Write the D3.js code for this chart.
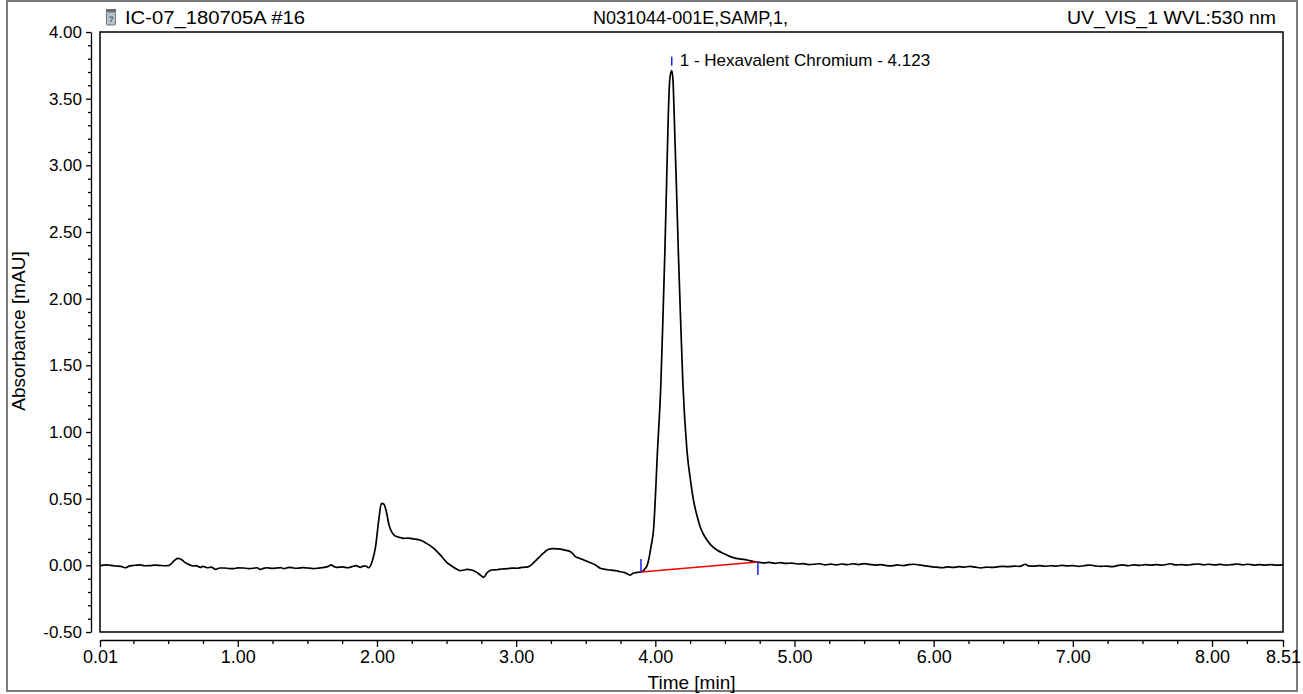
<!DOCTYPE html>
<html>
<head>
<meta charset="utf-8">
<script src="https://cdn.jsdelivr.net/npm/d3@7"></script>
<style>
  html, body { margin: 0; padding: 0; background: #fff; }
  svg { display: block; font-family: "Liberation Sans", Arial, sans-serif; }
</style>
</head>
<body>
<svg id="chart" width="1303" height="694"></svg>
<script>
// header texts
const headerLeft = "IC-07_180705A #16"
const headerMid = "N031044-001E,SAMP,1,"
const headerRight = "UV_VIS_1 WVL:530 nm"

// axes
const xDomain = [0.01, 8.51]
const yDomain = [-0.5, 4.0]
const xMajorTicks = [0.01, 1, 2, 3, 4, 5, 6, 7, 8, 8.51]
const xMinorTicks = [0.25, 0.5, 0.75, 1.25, 1.5, 1.75, 2.25, 2.5, 2.75, 3.25, 3.5, 3.75,
  4.25, 4.5, 4.75, 5.25, 5.5, 5.75, 6.25, 6.5, 6.75, 7.25, 7.5, 7.75, 8.25]
const yMajorTicks = [-0.5, 0, 0.5, 1, 1.5, 2, 2.5, 3, 3.5, 4]
const yMinorTicks = [-0.4, -0.3, -0.2, -0.1, 0.1, 0.2, 0.3, 0.4, 0.6, 0.7, 0.8, 0.9,
  1.1, 1.2, 1.3, 1.4, 1.6, 1.7, 1.8, 1.9, 2.1, 2.2, 2.3, 2.4, 2.6, 2.7, 2.8, 2.9,
  3.1, 3.2, 3.3, 3.4, 3.6, 3.7, 3.8, 3.9]

// chromatogram trace [time min, absorbance mAU]
const trace = [
  [0.01, -0.002], [0.06, 0.003], [0.09, -0.001], [0.12, -0.005], [0.16, -0.008], [0.19, -0.018],
  [0.22, -0.006], [0.24, -0.002], [0.27, 0.001], [0.30, 0.003], [0.33, -0.003], [0.37, -0.002],
  [0.40, 0.002], [0.44, 0.000], [0.47, -0.003], [0.50, -0.002], [0.52, 0.010], [0.54, 0.032],
  [0.57, 0.052], [0.60, 0.040], [0.62, 0.022], [0.64, 0.010], [0.66, 0.002], [0.68, -0.005],
  [0.70, -0.002], [0.73, -0.015], [0.75, -0.008], [0.78, -0.018], [0.81, -0.014], [0.84, -0.030],
  [0.87, -0.020], [0.90, -0.020], [0.94, -0.024], [0.97, -0.025], [1.00, -0.019], [1.04, -0.020],
  [1.08, -0.024], [1.11, -0.022], [1.14, -0.018], [1.16, -0.030], [1.19, -0.021], [1.21, -0.018],
  [1.25, -0.023], [1.28, -0.020], [1.31, -0.017], [1.33, -0.025], [1.37, -0.015], [1.40, -0.020],
  [1.43, -0.022], [1.47, -0.017], [1.50, -0.020], [1.54, -0.024], [1.57, -0.022], [1.60, -0.018],
  [1.62, -0.015], [1.65, -0.008], [1.67, 0.003], [1.69, -0.008], [1.71, -0.015], [1.75, -0.012],
  [1.79, -0.018], [1.82, -0.010], [1.85, -0.002], [1.88, -0.015], [1.90, -0.006], [1.92, -0.005],
  [1.94, -0.018], [1.965, 0.027], [1.99, 0.140], [2.013, 0.340], [2.032, 0.465], [2.049, 0.460],
  [2.068, 0.400], [2.087, 0.300], [2.109, 0.245], [2.125, 0.225], [2.144, 0.215], [2.17, 0.208],
  [2.192, 0.202], [2.22, 0.204], [2.252, 0.200], [2.28, 0.196], [2.307, 0.190], [2.33, 0.180],
  [2.348, 0.170], [2.38, 0.150], [2.408, 0.127], [2.43, 0.105], [2.456, 0.077], [2.48, 0.048],
  [2.503, 0.020], [2.53, 0.000], [2.551, -0.015], [2.575, -0.030], [2.60, -0.040], [2.625, -0.035],
  [2.647, -0.030], [2.67, -0.034], [2.695, -0.040], [2.72, -0.055], [2.743, -0.073], [2.767, -0.090],
  [2.791, -0.055], [2.81, -0.040], [2.827, -0.035], [2.86, -0.033], [2.89, -0.028], [2.91, -0.027],
  [2.94, -0.025], [2.97, -0.021], [3.006, -0.022], [3.04, -0.016], [3.07, -0.014], [3.09, -0.010],
  [3.126, 0.020], [3.15, 0.045], [3.174, 0.070], [3.20, 0.095], [3.222, 0.115], [3.245, 0.124],
  [3.27, 0.125], [3.30, 0.124], [3.33, 0.120], [3.36, 0.112], [3.39, 0.102], [3.41, 0.085],
  [3.425, 0.065], [3.45, 0.055], [3.473, 0.045], [3.50, 0.034], [3.533, 0.020], [3.57, 0.002],
  [3.605, -0.022], [3.64, -0.030], [3.677, -0.035], [3.71, -0.040], [3.749, -0.048], [3.78, -0.055],
  [3.82, -0.073], [3.84, -0.060], [3.857, -0.055], [3.88, -0.052], [3.897, -0.050], [3.915, -0.040],
  [3.928, -0.023], [3.94, -0.005], [3.952, 0.040], [3.969, 0.140], [3.987, 0.265], [4.016, 0.865],
  [4.040, 1.365], [4.055, 1.865], [4.069, 2.365], [4.081, 2.866], [4.093, 3.365], [4.102, 3.616],
  [4.110, 3.690], [4.118, 3.710], [4.127, 3.640], [4.136, 3.365], [4.151, 2.866], [4.165, 2.365],
  [4.181, 1.865], [4.198, 1.365], [4.227, 0.865], [4.256, 0.615], [4.274, 0.490], [4.30, 0.370],
  [4.322, 0.290], [4.345, 0.235], [4.371, 0.190], [4.40, 0.152], [4.443, 0.115], [4.49, 0.088],
  [4.539, 0.065], [4.58, 0.052], [4.62, 0.046], [4.658, 0.040], [4.70, 0.030], [4.737, 0.025],
  [4.78, 0.018], [4.82, 0.022], [4.86, 0.015], [4.90, 0.020], [4.94, 0.014], [4.98, 0.017],
  [5.02, 0.010], [5.06, 0.013], [5.10, 0.006], [5.14, 0.008], [5.18, 0.012], [5.22, 0.004],
  [5.26, 0.009], [5.30, 0.003], [5.34, 0.010], [5.38, 0.005], [5.42, 0.012], [5.46, 0.006],
  [5.50, 0.013], [5.54, 0.007], [5.58, 0.002], [5.62, 0.006], [5.66, -0.002], [5.70, -0.004],
  [5.74, 0.003], [5.78, -0.002], [5.82, 0.005], [5.86, 0.008], [5.90, 0.002], [5.94, -0.004],
  [5.98, -0.010], [6.02, -0.014], [6.06, -0.018], [6.10, -0.012], [6.14, -0.016], [6.18, -0.010],
  [6.22, -0.013], [6.26, -0.008], [6.30, -0.014], [6.34, -0.020], [6.38, -0.013], [6.42, -0.016],
  [6.46, -0.011], [6.50, -0.008], [6.54, -0.010], [6.58, -0.006], [6.62, -0.008], [6.66, 0.008],
  [6.68, -0.004], [6.72, -0.006], [6.76, -0.002], [6.80, -0.007], [6.84, -0.003], [6.88, -0.006],
  [6.92, 0.000], [6.96, -0.004], [7.00, -0.002], [7.04, -0.008], [7.08, -0.003], [7.12, 0.002],
  [7.16, -0.004], [7.20, -0.008], [7.24, -0.006], [7.28, -0.010], [7.32, -0.002], [7.36, 0.003],
  [7.40, -0.003], [7.44, 0.004], [7.48, 0.000], [7.52, 0.005], [7.56, 0.001], [7.60, 0.006],
  [7.64, 0.002], [7.68, 0.008], [7.70, 0.012], [7.74, 0.003], [7.78, 0.006], [7.82, 0.001],
  [7.86, 0.007], [7.90, 0.010], [7.94, 0.004], [7.98, 0.008], [8.02, 0.003], [8.06, 0.007],
  [8.10, 0.002], [8.14, 0.005], [8.18, 0.010], [8.22, 0.004], [8.26, 0.008], [8.30, 0.002],
  [8.34, 0.006], [8.38, 0.001], [8.42, 0.005], [8.46, 0.002], [8.51, 0.004]
]

// integrated peak
const peakName = "1 - Hexavalent Chromium - 4.123"
const peakApex = [4.118, 3.71]
const peakStart = [3.897, -0.050]
const peakEnd = [4.737, 0.025]

const svg = d3.select("#chart")
const m = { left: 100, right: 1283, top: 32, bottom: 632 }

const x = d3.scaleLinear().domain(xDomain).range([m.left, m.right])
const y = d3.scaleLinear().domain(yDomain).range([m.bottom, m.top])
const fmt = d => d.toFixed(2)

// outer frame
svg.append("rect")
  .attr("x", 7).attr("y", 1).attr("width", 1290).attr("height", 690)
  .attr("fill", "none").attr("stroke", "#7a7a7a").attr("stroke-width", 2)

// header icon (sample vial)
svg.append("g").attr("transform", "translate(105,9)")
  .call(g => {
    g.append("rect").attr("x", 1).attr("y", 0).attr("width", 10).attr("height", 3).attr("fill", "#6d6d6d")
    g.append("rect").attr("x", 1.5).attr("y", 3).attr("width", 9).attr("height", 13).attr("rx", 1)
      .attr("fill", "#b9c3cc").attr("stroke", "#6f7780").attr("stroke-width", 1)
    g.append("path").attr("d", "M4,8 L8,8 L5.5,13").attr("fill", "none").attr("stroke", "#4c5560").attr("stroke-width", 1)
  })

const header = svg.append("g").attr("font-size", 18).attr("fill", "#000")
header.append("text").attr("x", 125).attr("y", 24)
  .attr("textLength", 180).attr("lengthAdjust", "spacingAndGlyphs").text(headerLeft)
header.append("text").attr("x", 593).attr("y", 24)
  .attr("textLength", 195).attr("lengthAdjust", "spacingAndGlyphs").text(headerMid)
header.append("text").attr("x", 1067).attr("y", 24)
  .attr("textLength", 209).attr("lengthAdjust", "spacingAndGlyphs").text(headerRight)

// plot box
svg.append("rect")
  .attr("x", m.left).attr("y", m.top)
  .attr("width", m.right - m.left).attr("height", m.bottom - m.top)
  .attr("fill", "none").attr("stroke", "#000").attr("stroke-width", 1.5)

// y axis (separate line left of the box)
const yAxisG = svg.append("g").attr("transform", "translate(91,0)")
yAxisG.call(d3.axisLeft(y).tickValues(yMajorTicks).tickFormat(fmt).tickSize(5).tickSizeOuter(0).tickPadding(4))
yAxisG.append("g").call(d3.axisLeft(y).tickValues(yMinorTicks).tickFormat("").tickSize(3).tickSizeOuter(0))
  .select(".domain").remove()
yAxisG.selectAll(".tick text").attr("font-size", 17)

// x axis (separate line below the box)
const xAxisG = svg.append("g").attr("transform", "translate(0,640)")
xAxisG.call(d3.axisBottom(x).tickValues(xMajorTicks).tickFormat(fmt).tickSize(7).tickSizeOuter(0).tickPadding(3))
xAxisG.append("g").call(d3.axisBottom(x).tickValues(xMinorTicks).tickFormat("").tickSize(4).tickSizeOuter(0))
  .select(".domain").remove()
xAxisG.selectAll(".tick text").attr("font-size", 18)

svg.selectAll(".tick text").attr("fill", "#000")
  .attr("font-family", "'Liberation Sans', Arial, sans-serif")
svg.selectAll(".domain, .tick line").attr("stroke", "#000").attr("stroke-width", 1.3)

// axis titles
svg.append("text")
  .attr("transform", `translate(25,${(m.top + m.bottom) / 2 - 1}) rotate(-90)`)
  .attr("text-anchor", "middle").attr("font-size", 19).text("Absorbance [mAU]")
svg.append("text")
  .attr("x", (m.left + m.right) / 2).attr("y", 689)
  .attr("text-anchor", "middle").attr("font-size", 19).text("Time [min]")

// trace
const line = d3.line().x(d => x(d[0])).y(d => y(d[1])).curve(d3.curveMonotoneX)
svg.append("path")
  .datum(trace)
  .attr("d", line)
  .attr("fill", "none").attr("stroke", "#000").attr("stroke-width", 1.7)
  .attr("stroke-linejoin", "round")

// integration baseline
svg.append("line")
  .attr("x1", x(peakStart[0])).attr("y1", y(peakStart[1]))
  .attr("x2", x(peakEnd[0])).attr("y2", y(peakEnd[1]))
  .attr("stroke", "#ff0000").attr("stroke-width", 1.5)

svg.append("line")
  .attr("x1", x(peakStart[0])).attr("x2", x(peakStart[0]))
  .attr("y1", y(peakStart[1])).attr("y2", y(peakStart[1]) - 13)
  .attr("stroke", "#1a1aff").attr("stroke-width", 1.5)
svg.append("line")
  .attr("x1", x(peakEnd[0])).attr("x2", x(peakEnd[0]))
  .attr("y1", y(peakEnd[1])).attr("y2", y(peakEnd[1]) + 13)
  .attr("stroke", "#1a1aff").attr("stroke-width", 1.5)

// peak label
svg.append("line")
  .attr("x1", x(peakApex[0])).attr("x2", x(peakApex[0]))
  .attr("y1", y(peakApex[1]) - 14).attr("y2", y(peakApex[1]) - 5)
  .attr("stroke", "#1a1aff").attr("stroke-width", 1.5)
svg.append("text")
  .attr("x", x(peakApex[0]) + 8).attr("y", y(peakApex[1]) - 5)
  .attr("font-size", 17).text(peakName)
</script>
</body>
</html>
